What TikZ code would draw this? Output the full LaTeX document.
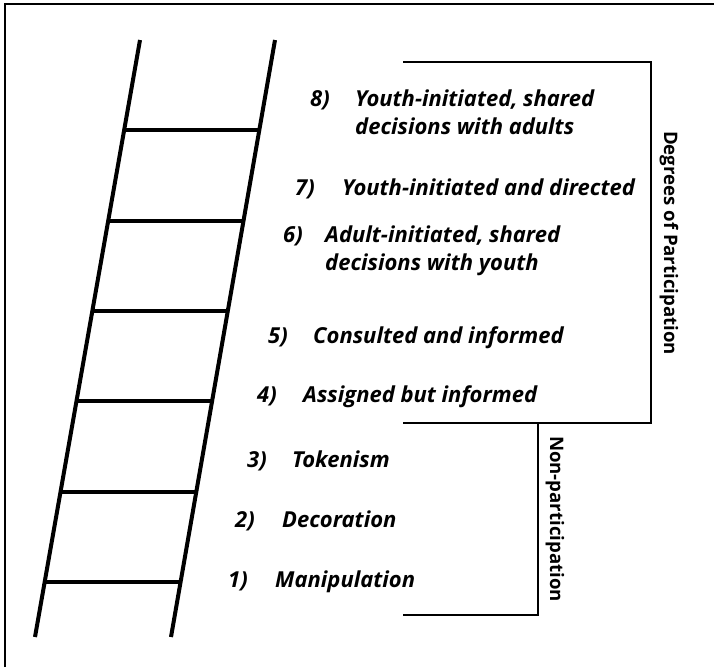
\documentclass[tikz,border=0pt]{standalone}
\usepackage{fontspec}
\setsansfont{Open Sans}
\usetikzlibrary{calc}

\begin{document}
\begin{tikzpicture}[x=1pt, y=-1pt,
    rung/.style={line width=4pt},
    bracket/.style={line width=2pt},
    item/.style={anchor=base west, inner sep=0pt, align=left,
      font=\fontsize{22}{28}\selectfont\sffamily\bfseries\itshape},
    side/.style={rotate=-90, inner sep=0pt,
      font=\fontsize{18.6}{22}\selectfont\sffamily\bfseries}]
    \useasboundingbox (0,0) rectangle (714,667);
    \draw[line width=2pt] (5,667) -- (5,4) -- (714,4);

    \coordinate (lt) at (140,40);
    \coordinate (lb) at (35,637);
    \coordinate (rt) at (275,40);
    \coordinate (rb) at (171,637);
    \draw[rung] (lt) -- (lb);
    \draw[rung] (rt) -- (rb);
    \foreach \y in {130,221,311,401,492,582}
      \draw[rung] ($(lt)!{(\y-40)/597}!(lb)$) -- ($(rt)!{(\y-40)/597}!(rb)$);

    \node[item] (n8) at (310,106) {8)};
    \node[item] (t8) at (355,134) {Youth-initiated, shared\\decisions with adults};
    \node[item] (n7) at (295,195) {7)};
    \node[item] (t7) at (342,195) {Youth-initiated and directed};
    \node[item] (n6) at (283,242) {6)};
    \node[item] (t6) at (325,270) {Adult-initiated, shared\\decisions with youth};
    \node[item] (n5) at (268,343) {5)};
    \node[item] (t5) at (313,343) {Consulted and informed};
    \node[item] (n4) at (257,402) {4)};
    \node[item] (t4) at (303,402) {Assigned but informed};
    \node[item] (n3) at (247,467) {3)};
    \node[item] (t3) at (292,467) {Tokenism};
    \node[item] (n2) at (235,527) {2)};
    \node[item] (t2) at (282,527) {Decoration};
    \node[item] (n1) at (228,587) {1)};
    \node[item] (t1) at (275,587) {Manipulation};

    \draw[bracket] (403,62) -| (651,423) -- (403,423);
    \draw[bracket] (538,423) |- (403,615);
    \node[side] (deg) at (669,243) {Degrees of Participation};
    \node[side] (non) at (555,519) {Non-participation};
\end{tikzpicture}
\end{document}
